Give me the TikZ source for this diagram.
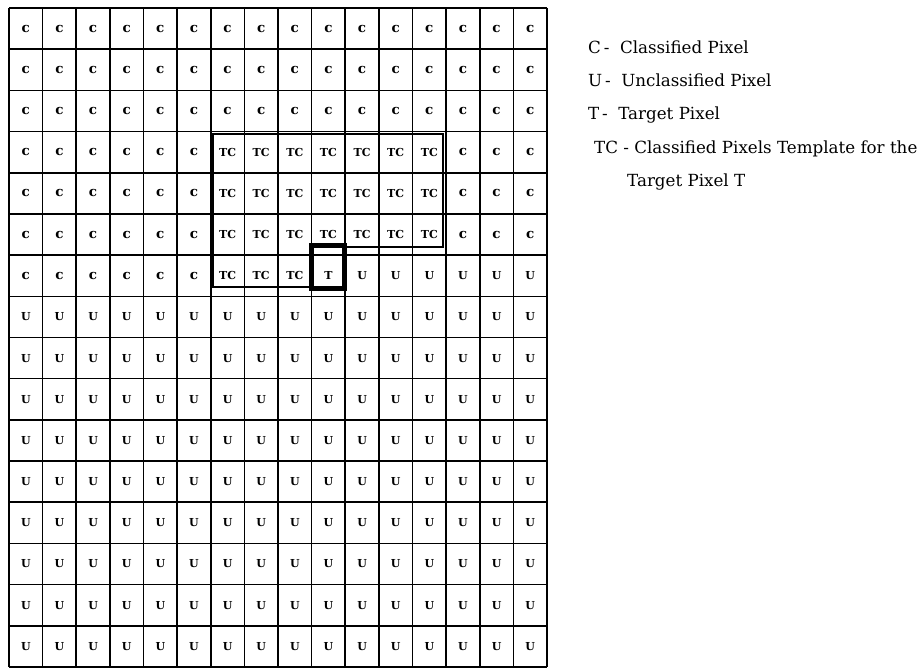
\documentclass[tikz,border=0pt]{standalone}
\usepackage{fontspec}
\setmainfont{DejaVu Serif}
\begin{document}
\begin{tikzpicture}[x=1pt,y=-1pt,
  gridline/.style={line width=1.6pt},
  celltext/.style={font=\fontsize{11}{12}\selectfont\bfseries, inner sep=0pt},
  smallc/.style={font=\fontsize{13.5}{14}\selectfont\bfseries},
  templateline/.style={line width=1.4pt},
  targetbox/.style={draw, line width=5pt, inner sep=0pt, minimum width=33pt, minimum height=42pt},
  legend/.style={font=\fontsize{16.7}{18}\selectfont, anchor=base west, inner sep=0pt}]
\useasboundingbox (0,0) rectangle (920,668);
\fill[white] (0,0) rectangle (920,668);
% grid
\foreach \i in {0,...,16} {
  \draw[gridline] ({9+\i*33.625},8) -- ({9+\i*33.625},667);
  \draw[gridline] (9,{8+\i*41.1875}) -- (547,{8+\i*41.1875});
}
% cell labels
\foreach \r in {0,...,15} {
  \foreach \c in {0,...,15} {
    \def\lab{U}\def\sty{celltext}%
    \ifnum\r<6 \def\lab{c}\def\sty{smallc}\fi
    \ifnum\r=6 \ifnum\c<6 \def\lab{c}\def\sty{smallc}\fi\fi
    \ifnum\r>2 \ifnum\r<6 \ifnum\c>5 \ifnum\c<13 \def\lab{TC}\def\sty{celltext}\fi\fi\fi\fi
    \ifnum\r=6 \ifnum\c>5 \ifnum\c<9 \def\lab{TC}\def\sty{celltext}\fi\fi\fi
    \ifnum\r=6 \ifnum\c=9 \def\lab{T}\def\sty{celltext}\fi\fi
    \node[celltext, \sty] (cell-\r-\c) at ({9+(\c+0.5)*33.625},{8+(\r+0.5)*41.1875}) {\lab};
  }
}
% template outline
\draw[templateline] (213,134) -- (443,134) -- (443,247) -- (344,247) -- (344,287) -- (213,287) -- cycle;
% target pixel box
\node[targetbox] (tbox) at (327.5,267) {};
% legend
\node[legend] (lc) at (588,54) {C\,-\ \ Classified Pixel};
\node[legend] (lu) at (588,87) {U\,-\ \ Unclassified Pixel};
\node[legend] (lt) at (588,120) {T\,-\ \ Target Pixel};
\node[legend] (ltc) at (594,154) {TC - Classified Pixels Template for the};
\node[legend] (ltc2) at (627,187) {Target Pixel T};
\end{tikzpicture}
\end{document}
